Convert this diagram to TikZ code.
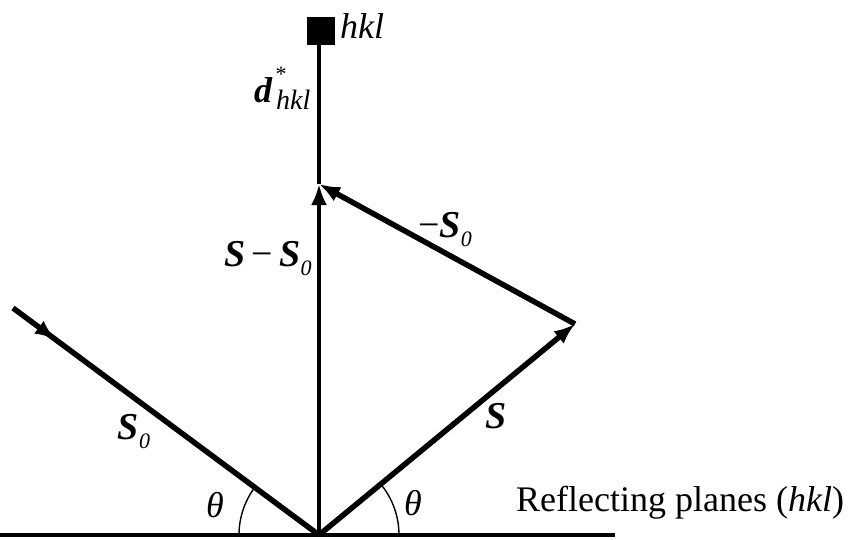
\documentclass[tikz,border=0pt]{standalone}
\usepackage{fontspec}
\setmainfont{Liberation Serif}
\usetikzlibrary{arrows.meta,decorations.markings}
\newcommand{\myS}{\textbf{\textit{S}}}
\newcommand{\myzero}{\raisebox{-9pt}{\fontsize{22}{22}\selectfont\textit{0}}}
\begin{document}
\begin{tikzpicture}[x=1pt,y=-1pt,
  thickvec/.style={line width=5.5pt},
  thinvec/.style={line width=4pt},
  tipend/.style={-{Latex[length=21pt,width=16pt]}},
  anglearc/.style={line width=1.4pt},
  lbl/.style={inner sep=0pt, font=\fontsize{38}{40}\selectfont},
  txt/.style={inner sep=0pt, font=\fontsize{36}{40}\selectfont},
  midtip/.style={postaction={decorate},decoration={markings,
     mark=at position 0.14 with {\arrow{Latex[length=21pt,width=16pt]}}}}]
\useasboundingbox (0,0) rectangle (859,539);
% points
\coordinate (O) at (319,535);
\coordinate (P) at (319,184);
\coordinate (R) at (575,324);
\coordinate (A) at (13,308);
\coordinate (L) at (0,535);
\coordinate (E) at (615,535);
\node[fill=black, minimum size=28pt, inner sep=0pt] (sq) at (321,31) {};
% base line
\draw[line width=4pt] (L) -- (E);
% vertical
\draw[thinvec] (P) -- (P |- sq.south);
\draw[thinvec, tipend] (O) -- (P);
% incident ray
\draw[thickvec, midtip] (A) -- (O);
% S and -S0
\draw[thickvec, tipend] (O) -- (R);
\draw[thickvec, tipend] (R) -- (P);
% angle arcs
\draw[anglearc] ([shift={(180:80)}]O) arc[start angle=180, end angle=216, radius=80];
\draw[anglearc] ([shift={(0:80)}]O) arc[start angle=0, end angle=-39, radius=80];
% labels
\node[txt, anchor=west] (hkl) at (340,26) {\textit{hkl}};
\node[inner sep=0pt, anchor=west, font=\fontsize{36}{40}\selectfont] (dlab) at (254,90) {\textbf{\textit{d}}};
\node[inner sep=0pt, font=\fontsize{22}{22}\selectfont] (star) at (281,74) {*};
\node[inner sep=0pt, anchor=west, font=\fontsize{28}{30}\selectfont] (dsub) at (276,100) {\textit{hkl}};
\node[lbl] (smso) at (268,259) {\myS\,−\,\myS\myzero};
\node[lbl] (mso) at (445,230) {−\myS\myzero};
\node[lbl] (so) at (134,432) {\myS\myzero};
\node[lbl] (s) at (496,416) {\myS};
\node[txt] (th1) at (215,505) {\textit{θ}};
\node[txt] (th2) at (413,503) {\textit{θ}};
\node[txt, anchor=west] (refl) at (516,503) {Reflecting planes (\textit{hkl})};
\end{tikzpicture}
\end{document}
